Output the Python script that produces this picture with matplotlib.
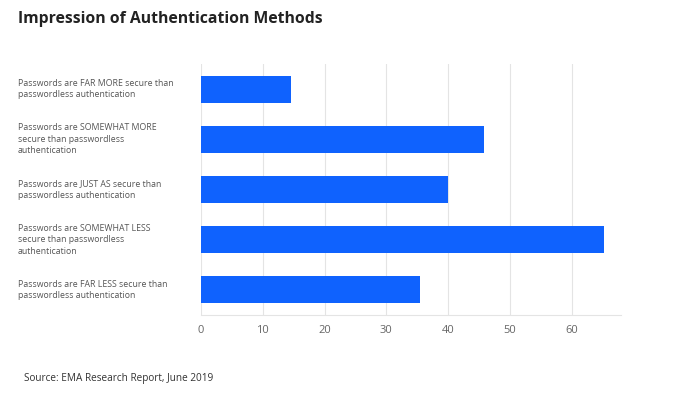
import matplotlib
matplotlib.use("Agg")
import matplotlib.pyplot as plt

plt.rcParams['font.family'] = ['Open Sans', 'DejaVu Sans']

# data
labels = [
    "Passwords are FAR MORE secure than\npasswordless authentication",
    "Passwords are SOMEWHAT MORE\nsecure than passwordless\nauthentication",
    "Passwords are JUST AS secure than\npasswordless authentication",
    "Passwords are SOMEWHAT LESS\nsecure than passwordless\nauthentication",
    "Passwords are FAR LESS secure than\npasswordless authentication",
]
values = [14.6, 45.8, 40, 65.2, 35.5]
ticks = [0, 10, 20, 30, 40, 50, 60]

fig = plt.figure(figsize=(6.9, 3.95), dpi=100)
ax = fig.add_axes([201 / 690, 1 - 315 / 395, (621 - 201) / 690, (315 - 64) / 395])

ypos = list(range(len(values)))
ax.barh(ypos, values, height=0.54, color="#0f62fe", zorder=3)
ax.set_ylim(len(values) - 0.5, -0.5)
ax.set_xlim(0, 68)
ax.set_xticks(ticks)
ax.set_xticklabels([str(t) for t in ticks], fontsize=8, color="#666666")
ax.set_yticks([])
ax.grid(axis="x", color="#e4e4e4", linewidth=0.8, zorder=0)
for s in ["top", "right", "left"]:
    ax.spines[s].set_visible(False)
ax.spines["bottom"].set_color("#e4e4e4")
ax.tick_params(axis="x", length=0, pad=7)

# category labels on the left, left aligned
for y, lab in zip(ypos, labels):
    ax.text(-183 / 690 * 68 / ((621 - 201) / 690), y, lab, ha="left", va="center",
            fontsize=6.35, color="#555555", linespacing=1.35, transform=ax.transData)

fig.text(18 / 690, 1 - 19 / 395, "Impression of Authentication Methods",
         fontsize=11.3, fontweight="bold", color="#222222", va="center", ha="left")
fig.text(24 / 690, 1 - 378 / 395, "Source: EMA Research Report, June 2019",
         fontsize=7.2, color="#333333", va="center", ha="left")

fig.savefig("out.png", dpi=100)
